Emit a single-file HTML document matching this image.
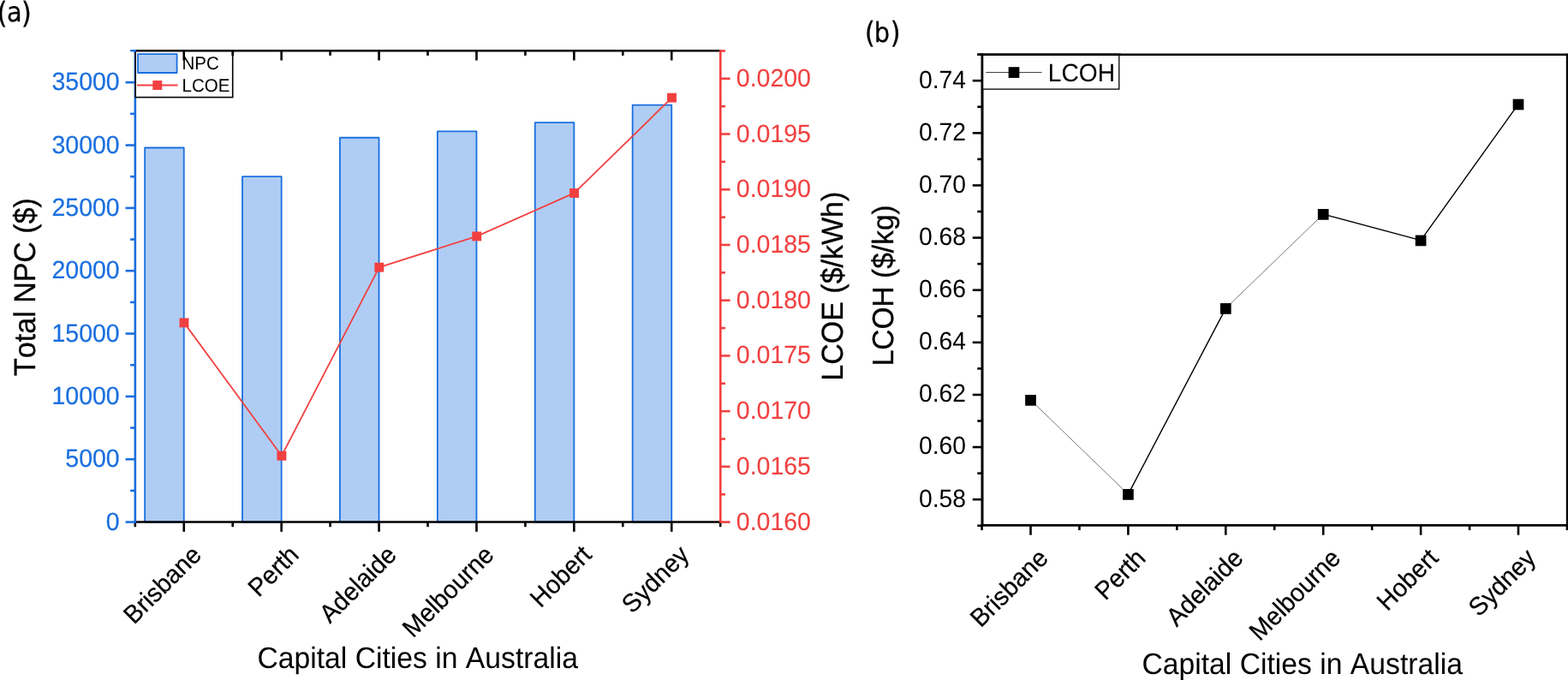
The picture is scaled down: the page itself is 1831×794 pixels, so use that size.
<!DOCTYPE html>
<html lang="en"><head><meta charset="utf-8"><title>NPC, LCOE and LCOH for capital cities in Australia</title>
<style>html,body{margin:0;padding:0;background:#fff;}body{width:1831px;height:794px;overflow:hidden;}svg{display:block;}text{font-family:"Liberation Sans", sans-serif;font-kerning:none;text-rendering:geometricPrecision;}</style></head><body>
<svg width="1831" height="794" viewBox="0 0 1831 794" role="img" aria-label="NPC, LCOE and LCOH charts">
<rect width="1831" height="794" fill="#fff"/>
<g fill="#1A6FDF" fill-opacity="0.35" stroke="none">
<rect x="169.15" y="172.48" width="45.60" height="437.07"/>
<rect x="283.05" y="206.21" width="45.60" height="403.34"/>
<rect x="396.95" y="160.74" width="45.60" height="448.81"/>
<rect x="510.85" y="153.41" width="45.60" height="456.14"/>
<rect x="624.75" y="143.14" width="45.60" height="466.41"/>
<rect x="738.65" y="122.60" width="45.60" height="486.95"/>
</g>
<g fill="none" stroke="#1A6FDF" stroke-width="1.80" stroke-linejoin="round">
<rect x="169.15" y="172.48" width="45.60" height="437.07"/>
<rect x="283.05" y="206.21" width="45.60" height="403.34"/>
<rect x="396.95" y="160.74" width="45.60" height="448.81"/>
<rect x="510.85" y="153.41" width="45.60" height="456.14"/>
<rect x="624.75" y="143.14" width="45.60" height="466.41"/>
<rect x="738.65" y="122.60" width="45.60" height="486.95"/>
</g>
<g stroke="#000" stroke-width="2.60" fill="none">
<line x1="156.85" y1="59.20" x2="842.30" y2="59.20"/>
<line x1="156.85" y1="609.55" x2="842.30" y2="609.55"/>
<line x1="214.75" y1="609.55" x2="214.75" y2="620.85"/>
<line x1="214.75" y1="59.20" x2="214.75" y2="70.50"/>
<line x1="328.65" y1="609.55" x2="328.65" y2="620.85"/>
<line x1="328.65" y1="59.20" x2="328.65" y2="70.50"/>
<line x1="442.55" y1="609.55" x2="442.55" y2="620.85"/>
<line x1="442.55" y1="59.20" x2="442.55" y2="70.50"/>
<line x1="556.45" y1="609.55" x2="556.45" y2="620.85"/>
<line x1="556.45" y1="59.20" x2="556.45" y2="70.50"/>
<line x1="670.35" y1="609.55" x2="670.35" y2="620.85"/>
<line x1="670.35" y1="59.20" x2="670.35" y2="70.50"/>
<line x1="784.25" y1="609.55" x2="784.25" y2="620.85"/>
<line x1="784.25" y1="59.20" x2="784.25" y2="70.50"/>
<line x1="157.80" y1="609.55" x2="157.80" y2="615.25"/>
<line x1="271.70" y1="609.55" x2="271.70" y2="615.25"/>
<line x1="271.70" y1="59.20" x2="271.70" y2="64.90"/>
<line x1="385.60" y1="609.55" x2="385.60" y2="615.25"/>
<line x1="385.60" y1="59.20" x2="385.60" y2="64.90"/>
<line x1="499.50" y1="609.55" x2="499.50" y2="615.25"/>
<line x1="499.50" y1="59.20" x2="499.50" y2="64.90"/>
<line x1="613.40" y1="609.55" x2="613.40" y2="615.25"/>
<line x1="613.40" y1="59.20" x2="613.40" y2="64.90"/>
<line x1="727.30" y1="609.55" x2="727.30" y2="615.25"/>
<line x1="727.30" y1="59.20" x2="727.30" y2="64.90"/>
<line x1="841.20" y1="609.55" x2="841.20" y2="615.25"/>
</g>
<g stroke="#1A6FDF" stroke-width="2.60" fill="none">
<line x1="157.85" y1="58.20" x2="157.85" y2="610.55"/>
<line x1="146.55" y1="609.60" x2="157.85" y2="609.60"/>
<line x1="146.55" y1="536.26" x2="157.85" y2="536.26"/>
<line x1="146.55" y1="462.91" x2="157.85" y2="462.91"/>
<line x1="146.55" y1="389.57" x2="157.85" y2="389.57"/>
<line x1="146.55" y1="316.23" x2="157.85" y2="316.23"/>
<line x1="146.55" y1="242.89" x2="157.85" y2="242.89"/>
<line x1="146.55" y1="169.54" x2="157.85" y2="169.54"/>
<line x1="146.55" y1="96.20" x2="157.85" y2="96.20"/>
<line x1="152.15" y1="572.93" x2="157.85" y2="572.93"/>
<line x1="152.15" y1="499.59" x2="157.85" y2="499.59"/>
<line x1="152.15" y1="426.24" x2="157.85" y2="426.24"/>
<line x1="152.15" y1="352.90" x2="157.85" y2="352.90"/>
<line x1="152.15" y1="279.56" x2="157.85" y2="279.56"/>
<line x1="152.15" y1="206.21" x2="157.85" y2="206.21"/>
<line x1="152.15" y1="132.87" x2="157.85" y2="132.87"/>
</g>
<g fill="#1A6FDF" stroke="#1A6FDF" stroke-width="0.22" font-size="28.50" text-anchor="end">
<text transform="translate(139.70,618.60) scale(1,1.030)">0</text>
<text transform="translate(139.70,545.26) scale(1,1.030)">5000</text>
<text transform="translate(139.70,471.91) scale(1,1.030)">10000</text>
<text transform="translate(139.70,398.57) scale(1,1.030)">15000</text>
<text transform="translate(139.70,325.23) scale(1,1.030)">20000</text>
<text transform="translate(139.70,251.89) scale(1,1.030)">25000</text>
<text transform="translate(139.70,178.54) scale(1,1.030)">30000</text>
<text transform="translate(139.70,105.20) scale(1,1.030)">35000</text>
</g>
<g stroke="#F14040" stroke-width="2.60" fill="none">
<line x1="841.30" y1="58.20" x2="841.30" y2="610.55"/>
<line x1="841.30" y1="609.60" x2="852.60" y2="609.60"/>
<line x1="841.30" y1="544.88" x2="852.60" y2="544.88"/>
<line x1="841.30" y1="480.15" x2="852.60" y2="480.15"/>
<line x1="841.30" y1="415.42" x2="852.60" y2="415.42"/>
<line x1="841.30" y1="350.70" x2="852.60" y2="350.70"/>
<line x1="841.30" y1="285.98" x2="852.60" y2="285.98"/>
<line x1="841.30" y1="221.25" x2="852.60" y2="221.25"/>
<line x1="841.30" y1="156.53" x2="852.60" y2="156.53"/>
<line x1="841.30" y1="91.80" x2="852.60" y2="91.80"/>
<line x1="841.30" y1="577.24" x2="847.00" y2="577.24"/>
<line x1="841.30" y1="512.51" x2="847.00" y2="512.51"/>
<line x1="841.30" y1="447.79" x2="847.00" y2="447.79"/>
<line x1="841.30" y1="383.06" x2="847.00" y2="383.06"/>
<line x1="841.30" y1="318.34" x2="847.00" y2="318.34"/>
<line x1="841.30" y1="253.61" x2="847.00" y2="253.61"/>
<line x1="841.30" y1="188.89" x2="847.00" y2="188.89"/>
<line x1="841.30" y1="124.16" x2="847.00" y2="124.16"/>
<line x1="841.30" y1="59.44" x2="847.00" y2="59.44"/>
</g>
<g fill="#F14040" stroke="#F14040" stroke-width="0.10" font-size="28.50" text-anchor="start">
<text transform="translate(859.80,618.60) scale(1,1.030)">0.0160</text>
<text transform="translate(859.80,553.88) scale(1,1.030)">0.0165</text>
<text transform="translate(859.80,489.15) scale(1,1.030)">0.0170</text>
<text transform="translate(859.80,424.42) scale(1,1.030)">0.0175</text>
<text transform="translate(859.80,359.70) scale(1,1.030)">0.0180</text>
<text transform="translate(859.80,294.98) scale(1,1.030)">0.0185</text>
<text transform="translate(859.80,230.25) scale(1,1.030)">0.0190</text>
<text transform="translate(859.80,165.53) scale(1,1.030)">0.0195</text>
<text transform="translate(859.80,100.80) scale(1,1.030)">0.0200</text>
</g>
<polyline points="215.00,376.89 328.90,532.23 442.80,312.17 556.70,275.92 670.60,225.43 784.50,114.11" fill="none" stroke="#F14040" stroke-width="1.80" stroke-linejoin="round"/>
<g fill="#F14040">
<rect x="209.55" y="371.44" width="10.90" height="10.90"/>
<rect x="323.45" y="526.78" width="10.90" height="10.90"/>
<rect x="437.35" y="306.72" width="10.90" height="10.90"/>
<rect x="551.25" y="270.47" width="10.90" height="10.90"/>
<rect x="665.15" y="219.98" width="10.90" height="10.90"/>
<rect x="779.05" y="108.66" width="10.90" height="10.90"/>
</g>
<rect x="158.20" y="59.20" width="113.50" height="54.40" fill="#fff" stroke="#000" stroke-width="1.60"/>
<rect x="161.00" y="63.20" width="45.60" height="21.80" fill="#1A6FDF" fill-opacity="0.35" stroke="none"/>
<rect x="161.00" y="63.20" width="45.60" height="21.80" fill="none" stroke="#1A6FDF" stroke-width="1.80" stroke-linejoin="round"/>
<line x1="160.00" y1="99.50" x2="207.60" y2="99.50" stroke="#F14040" stroke-width="1.80"/>
<rect x="178.35" y="94.05" width="10.90" height="10.90" fill="#F14040"/>
<text transform="translate(212.50,81.10) scale(1,1.040)" font-size="20.50" fill="#000">NPC</text>
<text transform="translate(212.50,106.70) scale(1,1.040)" font-size="20.50" fill="#000">LCOE</text>
<g stroke="#000" stroke-width="2.60" fill="none">
<line x1="156.85" y1="59.20" x2="273.70" y2="59.20"/>
<line x1="214.75" y1="59.20" x2="214.75" y2="70.50"/>
<line x1="271.70" y1="59.20" x2="271.70" y2="64.90"/>
</g>
<g stroke="#1A6FDF" stroke-width="2.40" fill="none">
<line x1="152.15" y1="59.20" x2="159.05" y2="59.20"/>
</g>
<g fill="#000" stroke="#000" stroke-width="0.25" font-size="28.80" text-anchor="end">
<text transform="translate(236.75,649.55) rotate(-45) scale(1,1.035)">Brisbane</text>
<text transform="translate(350.65,649.55) rotate(-45) scale(1,1.035)">Perth</text>
<text transform="translate(464.55,649.55) rotate(-45) scale(1,1.035)">Adelaide</text>
<text transform="translate(578.45,649.55) rotate(-45) scale(1,1.035)">Melbourne</text>
<text transform="translate(692.35,649.55) rotate(-45) scale(1,1.035)">Hobert</text>
<text transform="translate(806.25,649.55) rotate(-45) scale(1,1.035)">Sydney</text>
</g>
<text transform="translate(487.70,779.70) scale(1,1.035)" font-size="33.70" text-anchor="middle" fill="#000">Capital Cities in Australia</text>
<text transform="translate(40.70,335.00) rotate(-90) scale(1,1.035)" font-size="34.00" text-anchor="middle" fill="#000" stroke="#000" stroke-width="0.3">Total NPC ($)</text>
<text transform="translate(983.50,334.20) rotate(-90) scale(1,1.035)" font-size="34.00" text-anchor="middle" fill="#000" stroke="#000" stroke-width="0.3">LCOE ($/kWh)</text>
<text font-size="32.00" fill="#000" stroke="#000" stroke-width="0.25" style="font-family:'DejaVu Sans Condensed', 'DejaVu Sans', 'Liberation Sans', sans-serif"><tspan x="-3.40" y="26.80" font-size="34.60">(</tspan><tspan x="8.07" y="25.40">a</tspan><tspan x="24.85" y="26.80" font-size="34.60">)</tspan></text>
<g stroke="#000" stroke-width="2.60" fill="none">
<line x1="1146.00" y1="63.75" x2="1835.00" y2="63.75"/>
<line x1="1146.00" y1="613.40" x2="1835.00" y2="613.40"/>
<line x1="1147.00" y1="62.75" x2="1147.00" y2="614.40"/>
<line x1="1830.10" y1="62.75" x2="1830.10" y2="614.40"/>
<line x1="1203.50" y1="613.40" x2="1203.50" y2="624.70"/>
<line x1="1317.40" y1="613.40" x2="1317.40" y2="624.70"/>
<line x1="1431.30" y1="613.40" x2="1431.30" y2="624.70"/>
<line x1="1545.20" y1="613.40" x2="1545.20" y2="624.70"/>
<line x1="1659.10" y1="613.40" x2="1659.10" y2="624.70"/>
<line x1="1773.00" y1="613.40" x2="1773.00" y2="624.70"/>
<line x1="1146.55" y1="613.40" x2="1146.55" y2="619.10"/>
<line x1="1260.45" y1="613.40" x2="1260.45" y2="619.10"/>
<line x1="1374.35" y1="613.40" x2="1374.35" y2="619.10"/>
<line x1="1488.25" y1="613.40" x2="1488.25" y2="619.10"/>
<line x1="1602.15" y1="613.40" x2="1602.15" y2="619.10"/>
<line x1="1716.05" y1="613.40" x2="1716.05" y2="619.10"/>
<line x1="1829.95" y1="613.40" x2="1829.95" y2="619.10"/>
<line x1="1135.70" y1="583.20" x2="1147.00" y2="583.20"/>
<line x1="1135.70" y1="522.07" x2="1147.00" y2="522.07"/>
<line x1="1135.70" y1="460.95" x2="1147.00" y2="460.95"/>
<line x1="1135.70" y1="399.83" x2="1147.00" y2="399.83"/>
<line x1="1135.70" y1="338.70" x2="1147.00" y2="338.70"/>
<line x1="1135.70" y1="277.58" x2="1147.00" y2="277.58"/>
<line x1="1135.70" y1="216.45" x2="1147.00" y2="216.45"/>
<line x1="1135.70" y1="155.32" x2="1147.00" y2="155.32"/>
<line x1="1135.70" y1="94.20" x2="1147.00" y2="94.20"/>
<line x1="1141.30" y1="613.76" x2="1147.00" y2="613.76"/>
<line x1="1141.30" y1="552.64" x2="1147.00" y2="552.64"/>
<line x1="1141.30" y1="491.51" x2="1147.00" y2="491.51"/>
<line x1="1141.30" y1="430.39" x2="1147.00" y2="430.39"/>
<line x1="1141.30" y1="369.26" x2="1147.00" y2="369.26"/>
<line x1="1141.30" y1="308.14" x2="1147.00" y2="308.14"/>
<line x1="1141.30" y1="247.01" x2="1147.00" y2="247.01"/>
<line x1="1141.30" y1="185.89" x2="1147.00" y2="185.89"/>
<line x1="1141.30" y1="124.76" x2="1147.00" y2="124.76"/>
<line x1="1141.30" y1="63.64" x2="1147.00" y2="63.64"/>
</g>
<g fill="#000" font-size="28.30" text-anchor="end">
<text transform="translate(1128.00,591.50) scale(1,1.035)">0.58</text>
<text transform="translate(1128.00,530.37) scale(1,1.035)">0.60</text>
<text transform="translate(1128.00,469.25) scale(1,1.035)">0.62</text>
<text transform="translate(1128.00,408.13) scale(1,1.035)">0.64</text>
<text transform="translate(1128.00,347.00) scale(1,1.035)">0.66</text>
<text transform="translate(1128.00,285.88) scale(1,1.035)">0.68</text>
<text transform="translate(1128.00,224.75) scale(1,1.035)">0.70</text>
<text transform="translate(1128.00,163.62) scale(1,1.035)">0.72</text>
<text transform="translate(1128.00,102.50) scale(1,1.035)">0.74</text>
</g>
<line x1="1203.50" y1="467.06" x2="1317.40" y2="577.09" stroke="#7a7a7a" stroke-width="1.00"/>
<line x1="1317.40" y1="577.09" x2="1431.30" y2="360.09" stroke="#000" stroke-width="1.40"/>
<line x1="1431.30" y1="360.09" x2="1545.20" y2="250.07" stroke="#7a7a7a" stroke-width="1.00"/>
<line x1="1545.20" y1="250.07" x2="1659.10" y2="280.63" stroke="#000" stroke-width="1.40"/>
<line x1="1659.10" y1="280.63" x2="1773.00" y2="121.71" stroke="#000" stroke-width="1.40"/>
<g fill="#000">
<rect x="1197.15" y="461.01" width="12.70" height="12.70"/>
<rect x="1311.05" y="571.04" width="12.70" height="12.70"/>
<rect x="1424.95" y="354.04" width="12.70" height="12.70"/>
<rect x="1538.85" y="244.02" width="12.70" height="12.70"/>
<rect x="1652.75" y="274.58" width="12.70" height="12.70"/>
<rect x="1766.65" y="115.66" width="12.70" height="12.70"/>
</g>
<rect x="1147.30" y="64.00" width="159.50" height="40.10" fill="#fff" stroke="#000" stroke-width="1.30"/>
<line x1="1151.20" y1="84.60" x2="1216.50" y2="84.60" stroke="#000" stroke-width="0.80"/>
<rect x="1177.65" y="78.25" width="12.70" height="12.70" fill="#000"/>
<text transform="translate(1223.70,94.60) scale(1,1.040)" font-size="28.20" fill="#000">LCOH</text>
<g stroke="#000" stroke-width="2.60" fill="none">
<line x1="1141.30" y1="63.75" x2="1308.80" y2="63.75"/>
<line x1="1147.00" y1="62.75" x2="1147.00" y2="614.40"/>
</g>
<g fill="#000" stroke="#000" stroke-width="0.25" font-size="28.80" text-anchor="end">
<text transform="translate(1225.50,653.40) rotate(-45) scale(1,1.035)">Brisbane</text>
<text transform="translate(1339.40,653.40) rotate(-45) scale(1,1.035)">Perth</text>
<text transform="translate(1453.30,653.40) rotate(-45) scale(1,1.035)">Adelaide</text>
<text transform="translate(1567.20,653.40) rotate(-45) scale(1,1.035)">Melbourne</text>
<text transform="translate(1681.10,653.40) rotate(-45) scale(1,1.035)">Hobert</text>
<text transform="translate(1795.00,653.40) rotate(-45) scale(1,1.035)">Sydney</text>
</g>
<text transform="translate(1520.70,786.70) scale(1,1.035)" font-size="33.70" text-anchor="middle" fill="#000">Capital Cities in Australia</text>
<text transform="translate(1042.80,333.30) rotate(-90) scale(1,1.035)" font-size="33.50" text-anchor="middle" fill="#000" stroke="#000" stroke-width="0.3">LCOH ($/kg)</text>
<text font-size="32.00" fill="#000" stroke="#000" stroke-width="0.25" style="font-family:'DejaVu Sans Condensed', 'DejaVu Sans', 'Liberation Sans', sans-serif"><tspan x="1009.70" y="50.40" font-size="34.60">(</tspan><tspan x="1020.80" y="49.00">b</tspan><tspan x="1039.45" y="50.40" font-size="34.60">)</tspan></text>
</svg></body></html>
